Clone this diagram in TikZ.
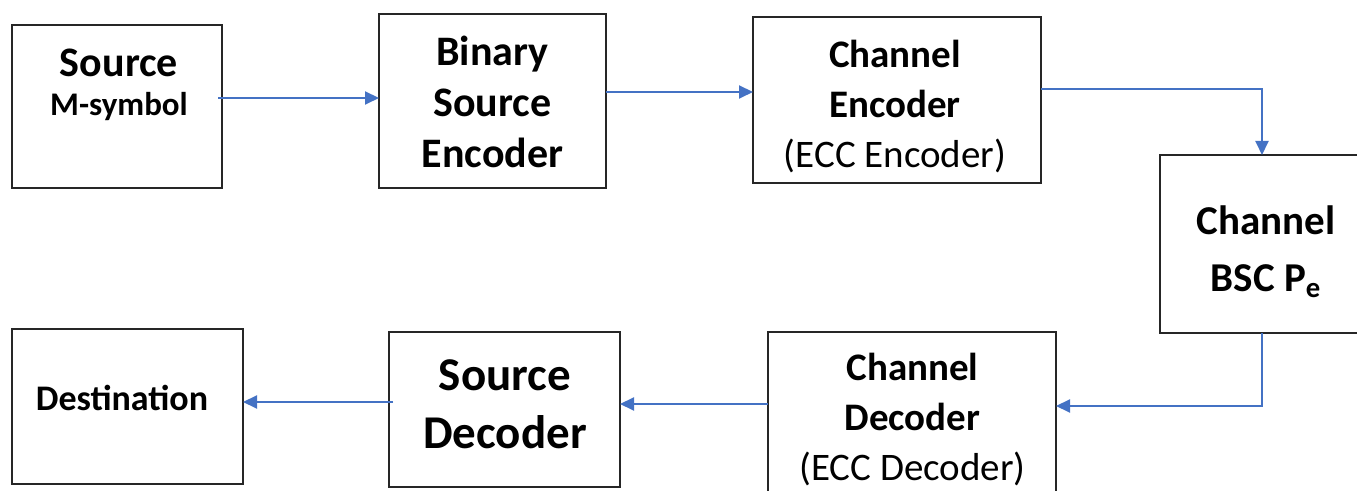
\documentclass[tikz,border=0pt]{standalone}
\usepackage{fontspec}
\setmainfont{Carlito}
\usetikzlibrary{arrows.meta}
\definecolor{linkblue}{HTML}{4472C4}
\begin{document}
\begin{tikzpicture}[
 x=.5pt,y=-.5pt,
 block/.style={draw=black!85,line width=1pt,inner sep=0pt,outer sep=0pt},
 label/.style={align=center,inner sep=0pt},
 link/.style={draw=linkblue,line width=1pt,-{Triangle[length=7pt,width=6.5pt]}}]
 \clip (0,0) rectangle (1357,491);
 % Top row.
 \node[block,minimum width=105pt,minimum height=81.5pt] (src) at (117,106.5){};
 \node[label,font=\bfseries] (srctext) at (119,85){\fontsize{21}{21}\selectfont Source\\[7.5pt]\fontsize{16.5}{21}\selectfont M-symbol};
 \node[block,minimum width=113.5pt,minimum height=87pt] (binenc) at (492.5,101){};
 \node[label,font=\bfseries\fontsize{21}{25.5}\selectfont] (binenctext) at (492.5,102){Binary\\Source\\Encoder};
 \node[block,minimum width=144pt,minimum height=83pt] (chenc) at (897,100){};
 \node[label,font=\fontsize{19.5}{25}\selectfont] (chenctext) at (895,106.5){\bfseries Channel\\\bfseries Encoder\\(ECC Encoder)};
 % Channel.
 \node[block,minimum width=102pt,minimum height=89pt] (bsc) at (1262,244){};
 \node[label,font=\bfseries\fontsize{20.5}{28.5}\selectfont] (bsctext) at (1266,252){Channel\\BSC P\textsubscript{e}};
 % Bottom row.
 \node[block,minimum width=115.5pt,minimum height=77.5pt] (dest) at (127.5,406.5){};
 \node[label,font=\bfseries\fontsize{18}{22}\selectfont] (desttext) at (122,398){Destination};
 \node[block,minimum width=115.5pt,minimum height=77.5pt] (srcdec) at (504.5,409.5){};
 \node[label,font=\bfseries\fontsize{23.5}{29}\selectfont] (srcdectext) at (505,404){Source\\Decoder};
 \node[block,minimum width=144pt,minimum height=82pt] (chdec) at (912,414){};
 \node[label,font=\fontsize{19.5}{25}\selectfont] (chdectext) at (912.5,419.5){\bfseries Channel\\\bfseries Decoder\\(ECC Decoder)};
 % Links.
 \draw[link] ([xshift=-2pt]src.east |- 0,98)--(binenc.west |- 0,98);
 \draw[link] (binenc.east |- 0,92)--(chenc.west |- 0,92);
 \draw[link] (chenc.east |- 0,89)-|(bsc.north);
 \draw[link] (bsc.south)|-(chdec.east |- 0,406);
 \draw[link] (chdec.west |- 0,404)--(srcdec.east |- 0,404);
 \draw[link] ([xshift=2pt]srcdec.west |- 0,402)--(dest.east |- 0,402);
\end{tikzpicture}
\end{document}
